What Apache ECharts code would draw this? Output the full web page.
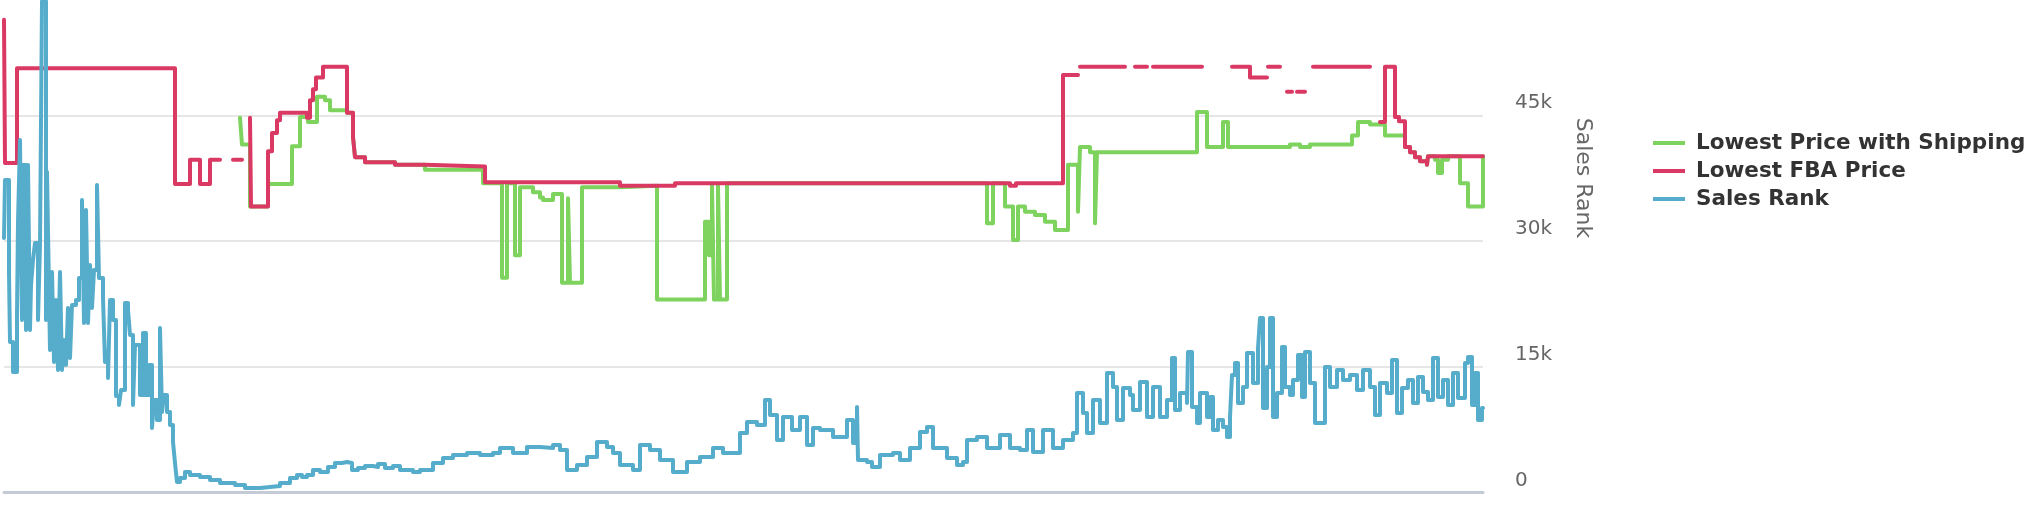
<!DOCTYPE html>
<html><head><meta charset="utf-8">
<script src="https://cdn.jsdelivr.net/npm/echarts@6/dist/echarts.min.js"></script>
<style>html,body{margin:0;padding:0;background:#fff}#c{width:2040px;height:528px}</style>
</head><body><div id="c"></div>
<script>
// ---- data (x = day index, y = value) ----
const seriesNames = ['Lowest Price with Shipping', 'Lowest FBA Price', 'Sales Rank'];
const rankTicks = [0, 15000, 30000, 45000];
const rankAxisTitle = 'Sales Rank';
const rankAxisMax = 58760;
const priceAxisMax = 58.76;

// Lowest Price with Shipping ($)
const lowestPrice = [[118,44.7],[119,41.5],[123,34.1],[132,36.8],[144,41.3],[148,44.8],[152,44.2],[156.5,47.2],[160.5,46.8],[163,45.6],[171.5,45.3],[174.5,42.4],[175.5,40.0],[180.5,39.4],[195.5,39.1],[210.5,38.5],[239.5,36.9],[245.5,36.7],[246.5,36.9],[249,25.6],[251.5,36.9],[255.5,28.3],[258,36.4],[264.5,35.8],[268,35.2],[269.5,34.9],[274.5,35.6],[279,25.0],[282,35.1],[283,25.0],[289,36.4],[308,36.6],[326.5,23.0],[350.5,32.3],[352.5,28.3],[354,36.6],[355,23.0],[357,36.6],[358,23.0],[361.5,36.9],[491.5,32.1],[494.5,36.9],[500.5,34.1],[504.5,30.1],[507,34.1],[510.5,33.5],[515.5,33.1],[520.5,32.3],[525.5,31.3],[532,39.1],[537,33.5],[538,41.2],[543,40.6],[545.5,32.1],[546.5,40.6],[596.5,45.4],[601.5,41.2],[609.5,44.2],[612,41.2],[643,41.5],[648,41.2],[653,41.5],[674,42.6],[677,44.2],[683,43.9],[690.5,42.6],[700.5,41.2],[703,40.6],[705.5,40.0],[708,39.5],[711.5,39.1],[712,40.1],[715.5,39.7],[717,38.1],[719,39.7],[722,40.1],[728,36.9],[732,34.1],[739.5,40.1]];

// Lowest FBA Price ($), null = no offer
const fbaPrice = [[0,56.4],[0.5,39.3],[6.5,50.6],[85.5,36.8],[93,39.7],[98,36.8],[103,39.7],[108,39.7],[108,null],[114.5,39.7],[119,39.7],[119,null],[123,44.7],[123.5,34.1],[132,40.7],[134,42.9],[136.5,44.4],[138,45.3],[151.5,44.7],[153,46.8],[154.5,48.1],[156,49.5],[159.5,50.8],[171.5,45.3],[174.5,42.4],[175.5,40.0],[180.5,39.4],[195.5,39.1],[210.5,38.9],[240.5,37.0],[308,36.6],[335.5,36.9],[503,36.6],[506,36.9],[529.5,49.8],[537,49.8],[537,null],[538,50.8],[560.5,50.8],[560.5,null],[565.5,50.8],[571.5,50.8],[571.5,null],[574.5,50.8],[599,50.8],[599,null],[614,50.8],[623,49.5],[631.5,49.5],[631.5,null],[632,50.8],[638,50.8],[638,null],[641.5,47.8],[644,47.8],[644,null],[646.5,47.8],[650.5,47.8],[650.5,null],[654.5,50.8],[683,50.8],[683,null],[688,44.2],[690.5,50.8],[695.5,44.8],[697.5,44.3],[700.5,41.2],[703,40.6],[705.5,40.0],[708,39.5],[711.5,39.1],[712,40.1],[739.5,40.1]];

// Sales Rank
const salesRank = [[0,30350],[0.5,37280],[2.5,26180],[3,17940],[4.5,14360],[6.5,21160],[7,32260],[8,42050],[9,20570],[9.5,39070],[11,19370],[12,39070],[13,19370],[13.5,24740],[14.5,27730],[15.5,29760],[17,20570],[18,29520],[19,58600],[21,20570],[21.5,38230],[22.5,24150],[23,16990],[24,26300],[25,15550],[26,22950],[27,14600],[28,26300],[29,14600],[30,18180],[31,15200],[32,22000],[33,16030],[34,22360],[36,22950],[37.5,25580],[39,34890],[40,20210],[41,33700],[42,20210],[43,27130],[44,22000],[45,26530],[46.5,36680],[47.5,25580],[49.5,23190],[50.5,15550],[52,13640],[53,22950],[54.5,20570],[56,11490],[57.5,10420],[58.5,12210],[60.5,22600],[62,21760],[63,18780],[64.5,10420],[65.5,17580],[68,11610],[69.5,19010],[71,11610],[72.5,15200],[74,7680],[75,11020],[76.5,8630],[78,19610],[79,9590],[80,11610],[81.5,9590],[83,8030],[84.5,6000],[85.5,3500],[86.5,1230],[88,1710],[90.5,2420],[93,2070],[98,1830],[103,1470],[108,1110],[115.5,870],[120.5,510],[128,630],[133,750],[138,1110],[143,1710],[146.5,2070],[149,1830],[151.5,2070],[154.5,2660],[158,2420],[162,3020],[165.5,3500],[169,3620],[171.5,3500],[174,2660],[177,2900],[180.5,3140],[184.5,3020],[187,3380],[190.5,2900],[194.5,3140],[198,2660],[204.5,2420],[208,2660],[214.5,3500],[219.5,4090],[224.5,4450],[231.5,4690],[238,4450],[244.5,4690],[248,5290],[254.5,4690],[261.5,5410],[268,5290],[274.5,5650],[278,5050],[281.5,2660],[286.5,3260],[291.5,4210],[296.5,6000],[301.5,5410],[304.5,4690],[308,3260],[314.5,2660],[318,5650],[323,5050],[328,3860],[334.5,2420],[341.5,3620],[348,4210],[354.5,5290],[359.5,4690],[368,7080],[371.5,8390],[376.5,8030],[380.5,11020],[383,9230],[386.5,6240],[389.5,8990],[394,7440],[398,8990],[401.5,5650],[404.5,7680],[408,7440],[414.5,6600],[421.5,8630],[424.5,5880],[426.5,10180],[427,3860],[431.5,3620],[434,3020],[438,4450],[444.5,4690],[448,3860],[453,5290],[458,7200],[461.5,7790],[464.5,5290],[471.5,4090],[476.5,3260],[479.5,3620],[481.5,6240],[486.5,6600],[491.5,5290],[498,6840],[503,5290],[508,5050],[511.5,7440],[514.5,4810],[519.5,7440],[524.5,5290],[529.5,6240],[534.5,7080],[536.5,11850],[539.5,9470],[541.5,7080],[544.5,11020],[548,8270],[551.5,14240],[554.5,12570],[556.5,8630],[559.5,12450],[563,11610],[564.5,9820],[568,13170],[571.5,8990],[574.5,12570],[578,8990],[581.5,11020],[584,16030],[585.5,9820],[588,11850],[591.5,10660],[592,16750],[594,10180],[596.5,8270],[598,11850],[601.5,8990],[603,11380],[604.5,7440],[607,8630],[609.5,7790],[611.5,6600],[613,8990],[614,14000],[615.5,15430],[617,10660],[619.5,12570],[621.5,16630],[624.5,13050],[627,17220],[628,20800],[629.5,10060],[631.5,14960],[633,20800],[634.5,8990],[636.5,11850],[639,17340],[640.5,12570],[643,11610],[644.5,13400],[647,16390],[649,11380],[650.5,16750],[653,13050],[655.5,8270],[660.5,14960],[663,12570],[666.5,14600],[669.5,13400],[673,14000],[676.5,12210],[679.5,14600],[683,12570],[685.5,9230],[688,13050],[691.5,11850],[694,15790],[696.5,9470],[699,12450],[702,13400],[704.5,10660],[707,13760],[709.5,11970],[712,11020],[714.5,16030],[717,11380],[719.5,13400],[722,10420],[724.5,14240],[727,11260],[730.5,15430],[732,16150],[734,10420],[735.5,14240],[737,8630],[739,10060],[739.5,10060]];

const colors = ['#7dd35e', '#d93963', '#56adcb'];

const chart = echarts.init(document.getElementById('c'), null, {renderer: 'canvas'});
function lineSeries(name, data, color, yIdx) {
  return {
    name: name, type: 'line', data: data, yAxisIndex: yIdx, step: 'end',
    showSymbol: false, symbol: 'none', connectNulls: false, silent: true,
    lineStyle: {color: color, width: 4, cap: 'round', join: 'round'},
    itemStyle: {color: color}, emphasis: {disabled: true}
  };
}
chart.setOption({
  animation: false,
  backgroundColor: '#ffffff',
  grid: {left: 4, right: 557, top: 0, bottom: 35.7, containLabel: false},
  xAxis: {
    type: 'value', min: 0, max: 739.5,
    axisLine: {show: true, lineStyle: {color: '#c4cad6', width: 3}},
    axisTick: {show: false}, axisLabel: {show: false}, splitLine: {show: false}
  },
  yAxis: [{
    type: 'value', position: 'right', min: 0, max: rankAxisMax, interval: 15000,
    axisLine: {show: false}, axisTick: {show: false},
    axisLabel: {
      margin: 32, color: '#666666', fontFamily: 'DejaVu Sans', fontSize: 20,
      verticalAlign: 'bottom', lineHeight: 24, showMaxLabel: false,
      formatter: function (v) { return rankTicks.indexOf(v) < 0 ? '' : (v === 0 ? '0' : (v / 1000) + 'k'); }
    },
    splitLine: {show: true, showMaxLine: false, lineStyle: {color: '#e6e6e6', width: 2}}
  }, {
    type: 'value', min: 0, max: priceAxisMax, show: false, splitLine: {show: false}
  }],
  legend: {
    orient: 'vertical', left: 1648, top: 124, icon: 'rect', itemWidth: 32, itemHeight: 4, itemGap: 0,
    selectedMode: false,
    textStyle: {color: '#333333', fontWeight: 'bold', fontSize: 21.5, fontFamily: 'DejaVu Sans', lineHeight: 28, padding: [0, 0, 0, 6]},
    data: seriesNames
  },
  graphic: [{
    type: 'text', x: 1583, y: 178, rotation: -Math.PI / 2, silent: true,
    style: {text: rankAxisTitle, fill: '#666666', font: '22px "DejaVu Sans"', align: 'center', verticalAlign: 'middle'}
  }],
  series: [
    lineSeries(seriesNames[0], lowestPrice, colors[0], 1),
    lineSeries(seriesNames[1], fbaPrice, colors[1], 1),
    lineSeries(seriesNames[2], salesRank, colors[2], 0)
  ]
});
</script>
</body></html>
